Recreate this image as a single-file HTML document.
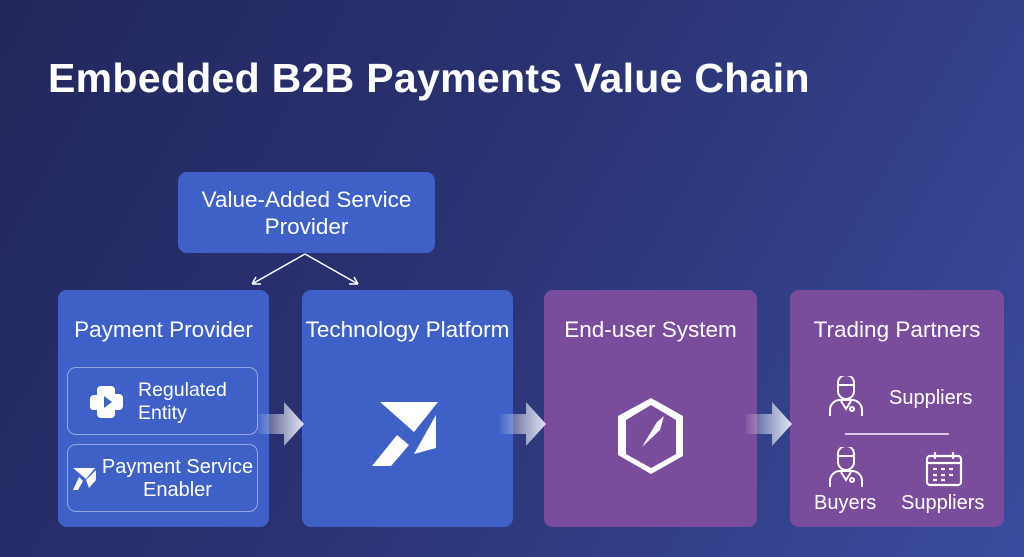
<!DOCTYPE html>
<html><head><style>
body{margin:0;width:1024px;height:557px;overflow:hidden;font-family:"Liberation Sans",sans-serif;color:#fff;
background:linear-gradient(120deg,#22275c 0%,#2a3272 45%,#3a4c9e 100%);position:relative}
.a{position:absolute}
.box{position:absolute;border-radius:9px}
.b{background:#3f60c6}.p{background:#7a4d9c}
.t{position:absolute;left:0;right:0;text-align:center;font-size:22.5px}
.sub{position:absolute;border:1.5px solid rgba(255,255,255,.45);border-radius:9px;left:9px;width:189px;height:66px}
</style></head><body>
<div class="a" style="left:48px;top:55px;font-size:41px;font-weight:bold;letter-spacing:0.3px">Embedded B2B Payments Value Chain</div>

<div class="box b" style="left:178px;top:172px;width:257px;height:81px"><div class="t" style="top:14px;line-height:27px">Value-Added Service<br>Provider</div></div>
<svg class="a" style="left:240px;top:252px" width="130" height="36"><g stroke="#fff" stroke-width="1.5" fill="none"><path d="M65 2 L12 32 M65 2 L118 32"/><path d="M12 32 l9 0 M12 32 l4 -7 M118 32 l-9 0 M118 32 l-4 -7"/></g></svg>

<div class="box b" style="left:58px;top:290px;width:211px;height:237px">
<div class="t" style="top:27px">Payment Provider</div>
<div class="sub" style="top:77px"><svg class="a" style="left:22px;top:16px" width="34" height="34"><path d="M11 2h10a4 4 0 0 1 4 4v4h4a4 4 0 0 1 4 4v8a4 4 0 0 1-4 4h-4v4a4 4 0 0 1-4 4H11a4 4 0 0 1-4-4v-4H3a3 3 0 0 1-3-3v-8a4 4 0 0 1 4-4h3V6a4 4 0 0 1 4-4z" fill="#fff"/><path d="M14 12l8 6-8 6z" fill="#3f60c6"/></svg><div class="a" style="left:70px;top:11px;font-size:19.5px;line-height:23px">Regulated<br>Entity</div></div>
<div class="sub" style="top:154px"><svg class="a" style="left:5px;top:23px" width="24" height="24"><path d="M0 0h22l-9 11z M13 12l10-10v10l-7 8z M6 9l4 4-5 9H0z" fill="#fff"/></svg><div class="a" style="left:0;right:-4px;padding-left:26px;text-align:center;top:11px;font-size:20px;line-height:23px">Payment Service<br>Enabler</div></div>
</div>

<div class="box b" style="left:302px;top:290px;width:211px;height:237px">
<div class="t" style="top:27px;font-size:22.5px;left:-6px;right:-6px">Technology Platform</div>
<svg class="a" style="left:70px;top:112px" width="68" height="66"><path d="M8 0h58L42 30z M64 13v33l-22 6z M25 33l12 10-18 21H0z" fill="#fff"/></svg>
</div>

<div class="box p" style="left:544px;top:290px;width:213px;height:237px">
<div class="t" style="top:27px">End-user System</div>
<svg class="a" style="left:74px;top:108px" width="66" height="76"><g fill="#fff"><path d="M33 0l32 18v40L33 76 28 73l30-17V22L33 7 8 22v30l-8 5V18z"/><path d="M0 57l8-5v4l25 14 5 3-5 3z" /><path d="M46 18l-4 14 -18 17 15-25z"/></g></svg>
</div>

<div class="box p" style="left:790px;top:290px;width:214px;height:237px">
<div class="t" style="top:27px">Trading Partners</div>
<svg class="a" style="left:38px;top:86px" width="36" height="42"><g stroke="#fff" stroke-width="2" fill="none"><path d="M10 7a8 8 0 0 1 16 0v8a8 8 0 0 1-16 0z M10 9h16"/><path d="M2 40v-6a10 10 0 0 1 10-10h12a10 10 0 0 1 10 10v6 M13 25l5 8 5-8"/><circle cx="24" cy="33" r="2"/></g></svg>
<div class="a" style="left:99px;top:97px;font-size:20px">Suppliers</div>
<div class="a" style="left:55px;top:143px;width:104px;height:1.5px;background:rgba(255,255,255,.7)"></div>
<svg class="a" style="left:38px;top:157px" width="36" height="42"><g stroke="#fff" stroke-width="2" fill="none"><path d="M10 7a8 8 0 0 1 16 0v8a8 8 0 0 1-16 0z M10 9h16"/><path d="M2 40v-6a10 10 0 0 1 10-10h12a10 10 0 0 1 10 10v6 M13 25l5 8 5-8"/><circle cx="24" cy="33" r="2"/></g></svg>
<svg class="a" style="left:135px;top:161px" width="38" height="36"><g stroke="#fff" stroke-width="2.2" fill="none"><rect x="2" y="5" width="34" height="29" rx="3"/><path d="M2 12h34 M10 1v7 M28 1v7 M8 18h4 M16 18h4 M24 18h4 M8 24h4 M16 24h4 M24 24h4 M8 29h4 M16 29h4"/></g></svg>
<div class="a" style="left:24px;top:202px;font-size:20px">Buyers</div>
<div class="a" style="left:111px;top:202px;font-size:20px">Suppliers</div>
</div>

<svg class="a" style="left:258px;top:402px" width="46" height="44"><defs><linearGradient id="g" x1="0" x2="1"><stop offset="0" stop-color="#fff" stop-opacity=".05"/><stop offset="1" stop-color="#dfe3f5"/></linearGradient></defs><path d="M0 12h26V0l20 22-20 22V32H0z" fill="url(#g)"/></svg>
<svg class="a" style="left:500px;top:402px" width="46" height="44"><path d="M0 12h26V0l20 22-20 22V32H0z" fill="url(#g)"/></svg>
<svg class="a" style="left:746px;top:402px" width="46" height="44"><path d="M0 12h26V0l20 22-20 22V32H0z" fill="url(#g)"/></svg>
</body></html>
